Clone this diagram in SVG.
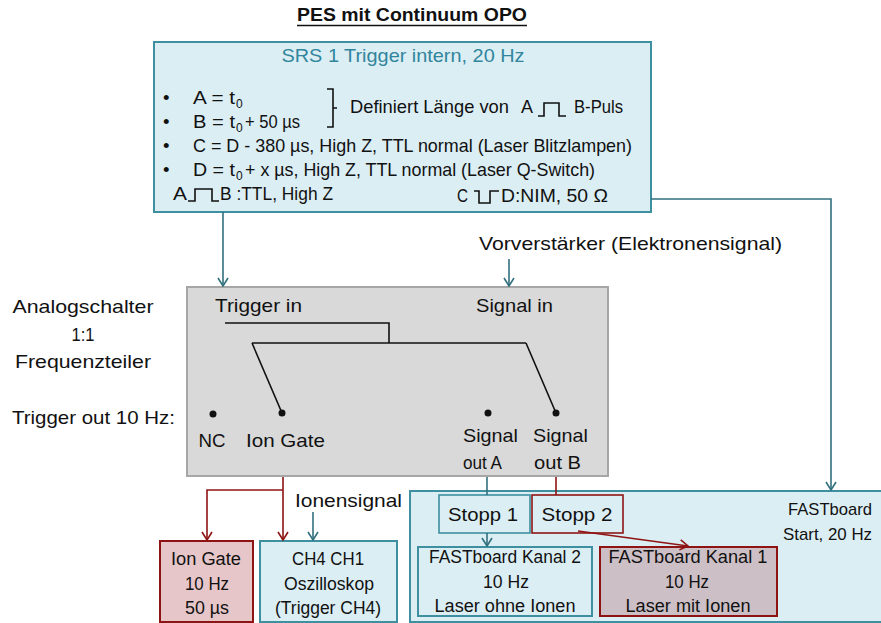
<svg xmlns="http://www.w3.org/2000/svg" width="881" height="623" viewBox="0 0 881 623">
<defs>
<marker id="aT" markerUnits="userSpaceOnUse" markerWidth="10" markerHeight="12" viewBox="0 0 10 12" refX="9" refY="6" orient="auto"><path d="M1,1 L9,6 L1,11" fill="none" stroke="#31707e" stroke-width="1.6"/></marker>
<marker id="aR" markerUnits="userSpaceOnUse" markerWidth="10" markerHeight="12" viewBox="0 0 10 12" refX="9" refY="6" orient="auto"><path d="M1,1 L9,6 L1,11" fill="none" stroke="#8e1414" stroke-width="1.6"/></marker>
<style>
text{font-family:"Liberation Sans",Arial,sans-serif;font-size:18.5px;fill:#111}
.c{text-anchor:middle}
.sm{font-size:17.5px}
.sub{font-size:12px}
.blue{fill:#dbeef4;stroke:#3e8fa0;stroke-width:2}
.redb{stroke:#8e1414;stroke-width:2}
.ct{fill:none;stroke:#31707e;stroke-width:1.6}
.cr{fill:none;stroke:#8e1414;stroke-width:1.6}
.k{fill:none;stroke:#111;stroke-width:1.6}
</style>
</defs>
<rect width="881" height="623" fill="#fff"/>

<text x="412" y="21" class="c" style="font-weight:bold;font-size:19px" textLength="230" lengthAdjust="spacingAndGlyphs">PES mit Continuum OPO</text>
<line x1="297" y1="25.5" x2="527" y2="25.5" stroke="#111" stroke-width="1.5"/>

<g id="srs">
<rect x="154" y="42" width="497" height="170" class="blue"/>
<text x="403" y="62" class="c" style="fill:#31859c;font-size:19px" textLength="243" lengthAdjust="spacingAndGlyphs">SRS 1 Trigger intern, 20 Hz</text>
<text x="163" y="104">•</text><text x="163" y="128">•</text><text x="163" y="152">•</text><text x="163" y="176">•</text>
<text x="193" y="104" textLength="42" lengthAdjust="spacingAndGlyphs">A = t</text><text x="236" y="108" class="sub">0</text>
<text x="193" y="128" textLength="42" lengthAdjust="spacingAndGlyphs">B = t</text><text x="236" y="132" class="sub">0</text>
<text x="245" y="128" textLength="55" lengthAdjust="spacingAndGlyphs">+ 50 µs</text>
<text x="193" y="152" textLength="439" lengthAdjust="spacingAndGlyphs">C = D - 380 µs, High Z, TTL normal (Laser Blitzlampen)</text>
<text x="193" y="176" textLength="42" lengthAdjust="spacingAndGlyphs">D = t</text><text x="236" y="180" class="sub">0</text>
<text x="245" y="176" textLength="350" lengthAdjust="spacingAndGlyphs">+ x µs, High Z, TTL normal (Laser Q-Switch)</text>
<path d="M327,89 H333 V127 H327 M333,108 H337" class="k" stroke-width="1.2"/>
<text x="350" y="113" textLength="159" lengthAdjust="spacingAndGlyphs">Definiert Länge von</text>
<text x="521" y="113" textLength="12" lengthAdjust="spacingAndGlyphs">A</text>
<path d="M538,116 H544 V103 H559 V116 H566" class="k" stroke-width="1.2"/>
<text x="574" y="113" textLength="49" lengthAdjust="spacingAndGlyphs">B-Puls</text>
<text x="173" y="200" textLength="14" lengthAdjust="spacingAndGlyphs">A</text>
<path d="M188,201 H195 V189 H212 V201 H219" class="k" stroke-width="1.2"/>
<text x="220" y="200" textLength="113" lengthAdjust="spacingAndGlyphs">B :TTL, High Z</text>
<text x="457" y="202" textLength="11" lengthAdjust="spacingAndGlyphs">C</text>
<path d="M474,191 H479 V203 H490 V191 H499" class="k" stroke-width="1.2"/>
<text x="501" y="202" textLength="107" lengthAdjust="spacingAndGlyphs">D:NIM, 50 Ω</text>
</g>

<g id="vorverstaerker">
<text x="479" y="250" textLength="303" lengthAdjust="spacingAndGlyphs">Vorverstärker (Elektronensignal)</text>
</g>

<g id="labels-left">
<text x="83" y="313" class="c" textLength="141" lengthAdjust="spacingAndGlyphs">Analogschalter</text>
<text x="83" y="341" class="c" textLength="23" lengthAdjust="spacingAndGlyphs">1:1</text>
<text x="83" y="368" class="c" textLength="136" lengthAdjust="spacingAndGlyphs">Frequenzteiler</text>
<text x="12" y="424" textLength="163" lengthAdjust="spacingAndGlyphs">Trigger out 10 Hz:</text>
</g>

<g id="analogschalter">
<rect x="187" y="287" width="421" height="189" fill="#d9d9d9" stroke="#a6a6a6" stroke-width="2"/>
<text x="215" y="312" textLength="87" lengthAdjust="spacingAndGlyphs">Trigger in</text>
<text x="476" y="312" textLength="77" lengthAdjust="spacingAndGlyphs">Signal in</text>
<path d="M225,323 H389 V343 M252,343 H526 M252,343 L282,413 M526,343 L556,413" class="k"/>
<circle cx="213" cy="414" r="3.5" fill="#111"/>
<circle cx="282" cy="413" r="3.5" fill="#111"/>
<circle cx="488" cy="413" r="3.5" fill="#111"/>
<circle cx="556" cy="413" r="3.5" fill="#111"/>
<text x="212" y="447" class="c" textLength="27" lengthAdjust="spacingAndGlyphs">NC</text>
<text x="246" y="447" textLength="79" lengthAdjust="spacingAndGlyphs">Ion Gate</text>
<text x="463" y="442" textLength="55" lengthAdjust="spacingAndGlyphs">Signal</text>
<text x="463" y="469" textLength="39" lengthAdjust="spacingAndGlyphs">out A</text>
<text x="533" y="442" textLength="55" lengthAdjust="spacingAndGlyphs">Signal</text>
<text x="534" y="469" textLength="47" lengthAdjust="spacingAndGlyphs">out B</text>
</g>

<g id="ionensignal-label">
<text x="295" y="507" textLength="107" lengthAdjust="spacingAndGlyphs">Ionensignal</text>
</g>

<g id="fastboard">
<rect x="410" y="491" width="480" height="131" class="blue"/>
<text x="788" y="515" style="font-size:17px" textLength="84" lengthAdjust="spacingAndGlyphs">FASTboard</text>
<text x="783" y="540" style="font-size:17px" textLength="89" lengthAdjust="spacingAndGlyphs">Start, 20 Hz</text>
</g>

<g id="ion-gate">
<rect x="160" y="541" width="93" height="81" fill="#e6c6c8" class="redb"/>
<text x="206" y="565" class="c sm" textLength="70" lengthAdjust="spacingAndGlyphs">Ion Gate</text>
<text x="207" y="590" class="c sm" textLength="44" lengthAdjust="spacingAndGlyphs">10 Hz</text>
<text x="207" y="614" class="c sm" textLength="44" lengthAdjust="spacingAndGlyphs">50 µs</text>
</g>

<g id="oszilloskop">
<rect x="260" y="541" width="137" height="81" class="blue"/>
<text x="328" y="565" class="c sm" textLength="72" lengthAdjust="spacingAndGlyphs">CH4 CH1</text>
<text x="329" y="590" class="c sm" textLength="90" lengthAdjust="spacingAndGlyphs">Oszilloskop</text>
<text x="328" y="614" class="c sm" textLength="106" lengthAdjust="spacingAndGlyphs">(Trigger CH4)</text>
</g>

<g id="stopp1">
<rect x="439" y="495" width="91" height="38" class="blue" style="stroke-width:1.6"/>
<text x="483" y="521" class="c" textLength="70" lengthAdjust="spacingAndGlyphs">Stopp 1</text>
</g>
<g id="stopp2">
<rect x="532" y="495" width="91" height="38" fill="#dbeef4" stroke="#8e1414" stroke-width="1.6"/>
<text x="577" y="521" class="c" textLength="71" lengthAdjust="spacingAndGlyphs">Stopp 2</text>
</g>

<g id="kanal2">
<rect x="418" y="547" width="174" height="69" class="blue"/>
<text x="505" y="563" class="c sm" textLength="152" lengthAdjust="spacingAndGlyphs">FASTboard Kanal 2</text>
<text x="506" y="588" class="c sm" textLength="46" lengthAdjust="spacingAndGlyphs">10 Hz</text>
<text x="505" y="612" class="c sm" textLength="141" lengthAdjust="spacingAndGlyphs">Laser ohne Ionen</text>
</g>

<g id="kanal1">
<rect x="600" y="547" width="177" height="69" fill="#ccc0c6" class="redb"/>
<text x="688" y="563" class="c sm" textLength="159" lengthAdjust="spacingAndGlyphs">FASTboard  Kanal 1</text>
<text x="687" y="588" class="c sm" textLength="44" lengthAdjust="spacingAndGlyphs">10 Hz</text>
<text x="688" y="612" class="c sm" textLength="125" lengthAdjust="spacingAndGlyphs">Laser mit Ionen</text>
</g>

<g id="connectors">
<path d="M223,212 V286" class="ct" marker-end="url(#aT)"/>
<path d="M509,259 V286" class="ct" marker-end="url(#aT)"/>
<path d="M651,199 H831 V490" class="ct" stroke="#3e8fa0" marker-end="url(#aT)"/>
<path d="M283,477 V540" class="cr" marker-end="url(#aR)"/>
<path d="M283,490 H207 V540" class="cr" marker-end="url(#aR)"/>
<path d="M313,512 V540" class="ct" marker-end="url(#aT)"/>
<path d="M487,477 V495" class="ct"/>
<path d="M556,477 V495" class="cr"/>
<path d="M487,533 V546" class="ct" marker-end="url(#aT)"/>
<path d="M578,531 L688,546" class="cr" marker-end="url(#aR)"/>
</g>
</svg>
